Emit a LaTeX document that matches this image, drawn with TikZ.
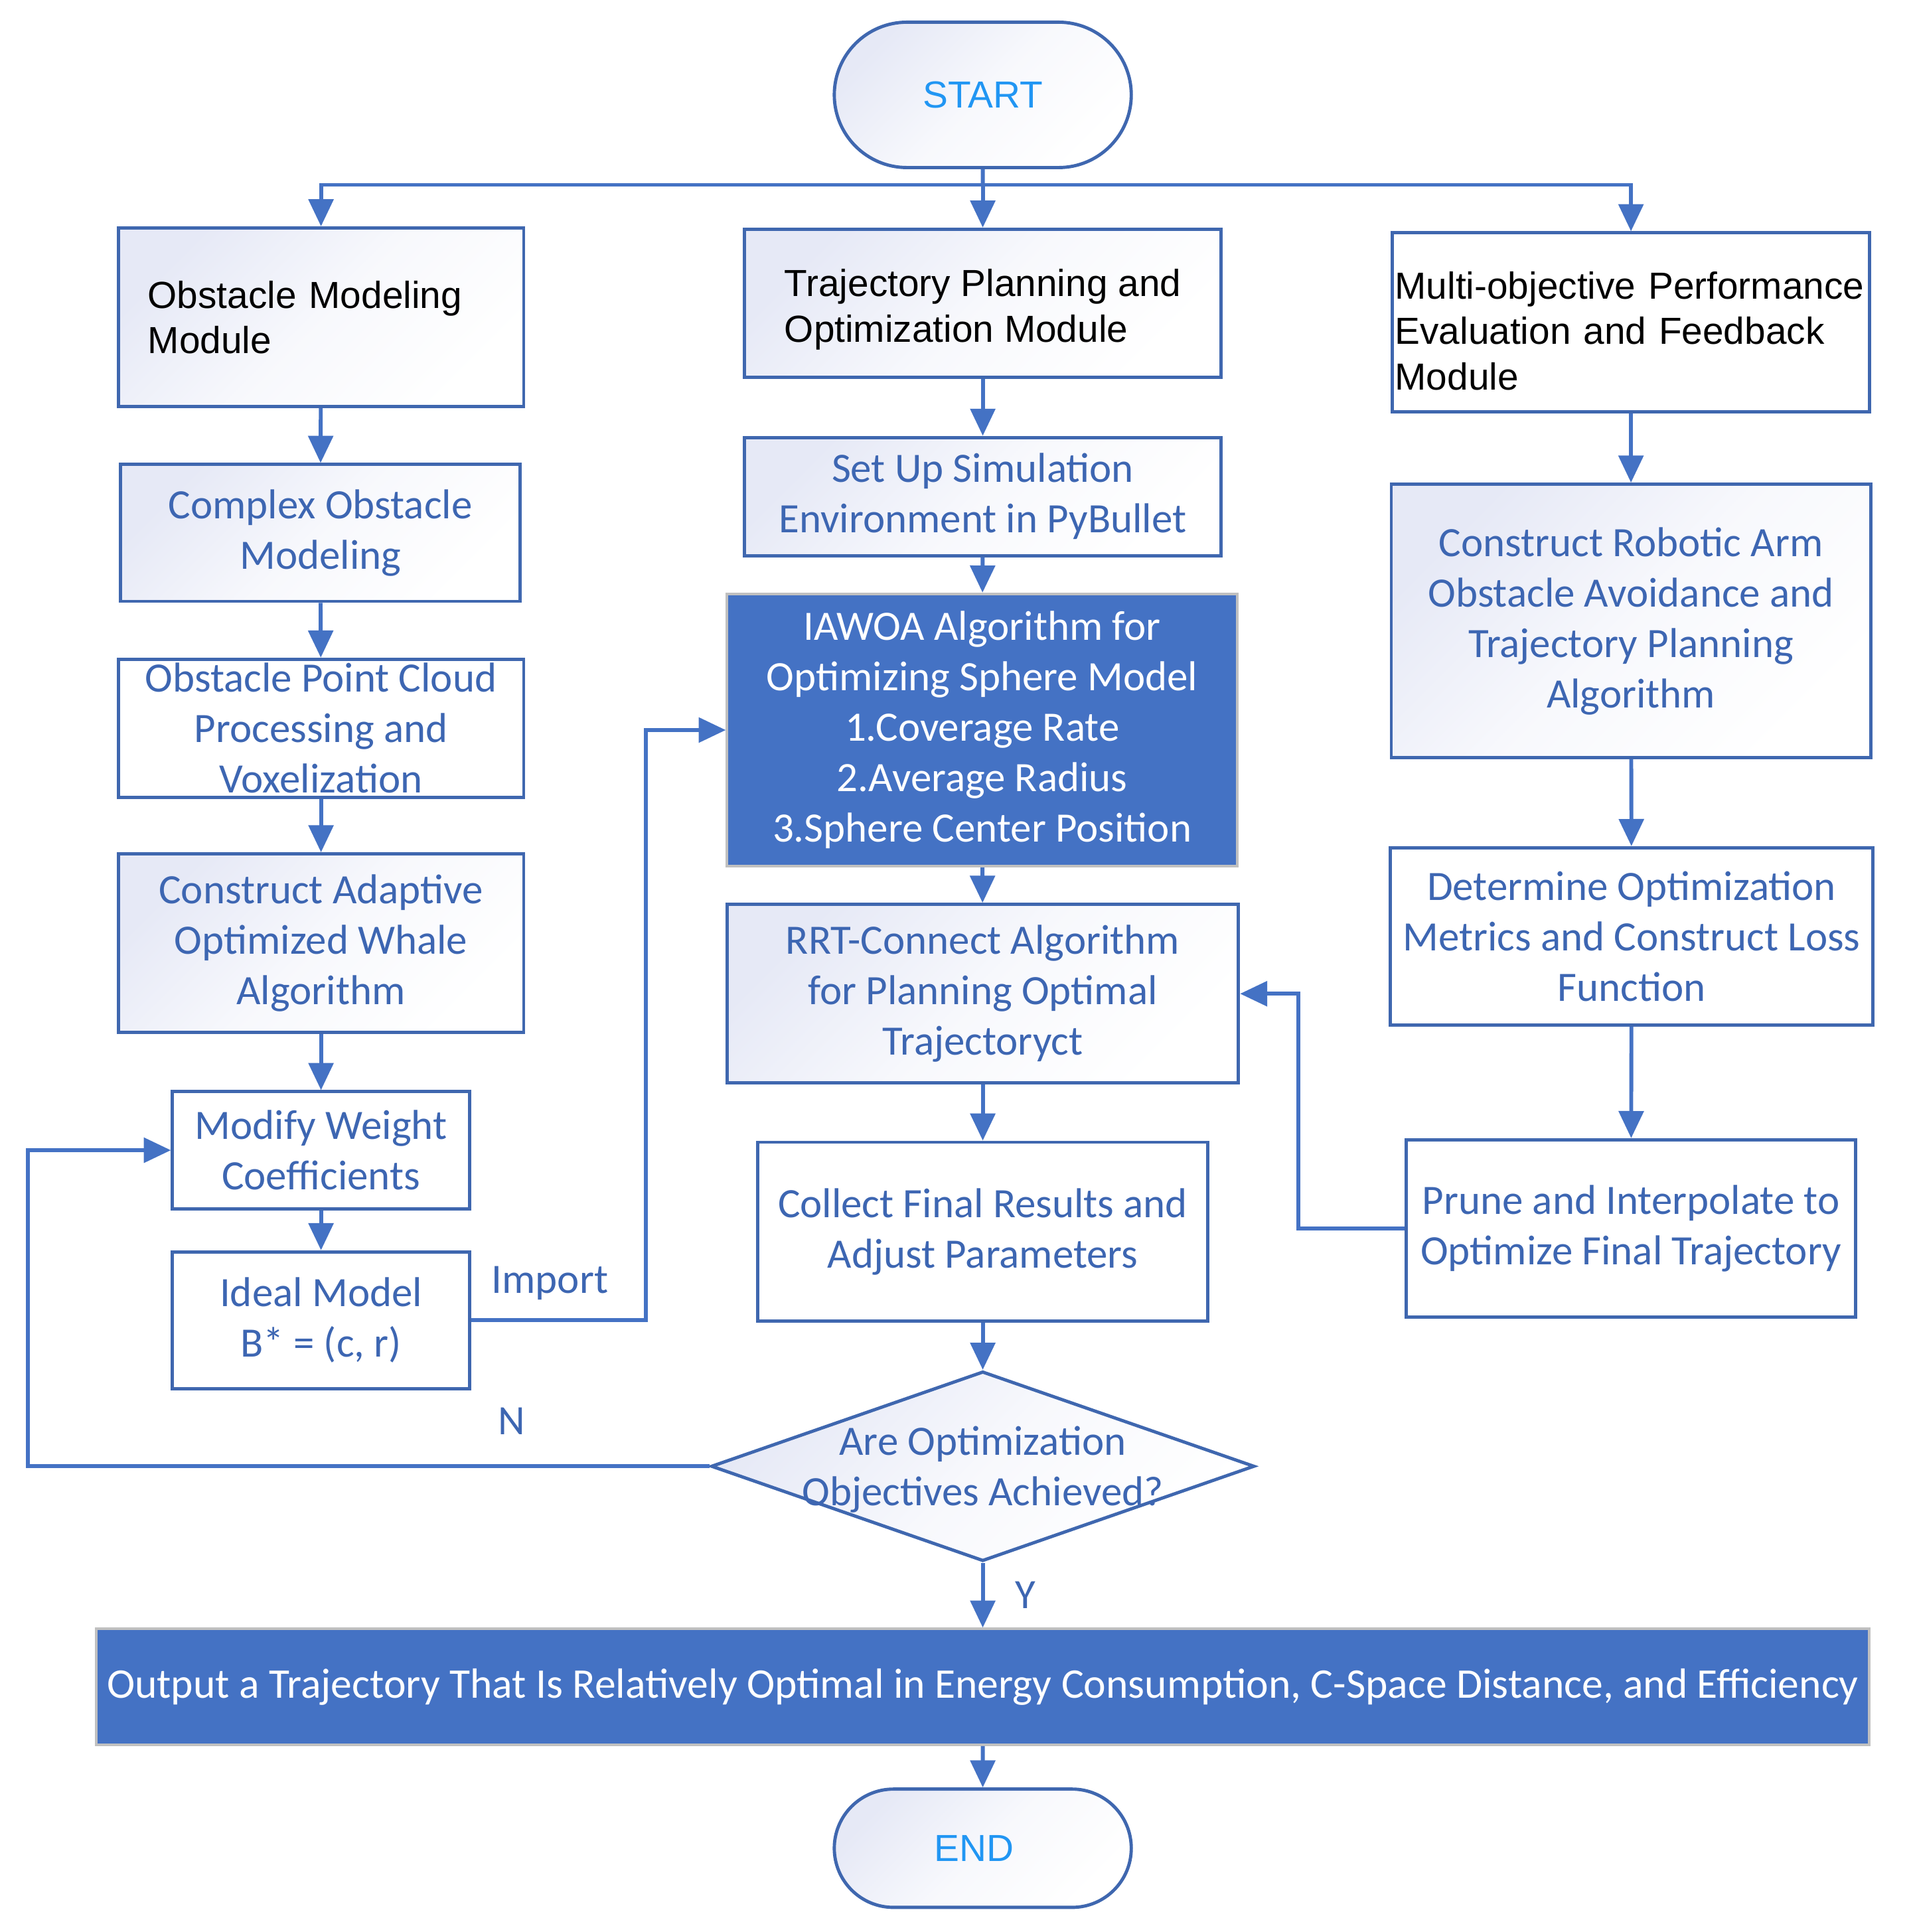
\documentclass[tikz,border=0pt]{standalone}
\usepackage{fontspec}
\setmainfont{Carlito}
\newfontfamily\arialfont{Liberation Sans}
\usetikzlibrary{arrows.meta,positioning,shapes.geometric,shapes.misc}
\definecolor{boxline}{RGB}{63,103,175}
\definecolor{flowcol}{RGB}{68,114,196}
\definecolor{labelcol}{RGB}{61,102,178}
\definecolor{startcol}{RGB}{33,150,243}
\definecolor{gradcol}{RGB}{230,233,246}
\definecolor{edgegray}{RGB}{192,192,192}
\newcommand{\boxfont}{\fontsize{9.65}{11.66}\selectfont}
\newcommand{\modfont}{\arialfont\fontsize{8.7}{10.5}\selectfont}

\begin{document}
\begin{tikzpicture}[
    box/.style={draw=boxline, line width=0.75pt, fill=white, font=\boxfont, text=labelcol, align=center, inner sep=0pt},
    grad/.style={box, top color=gradcol, bottom color=white, middle color=gradcol!30!white, shading angle=45},
    solidbox/.style={draw=edgegray, line width=0.6pt, fill=flowcol, font=\boxfont, text=white, align=center, inner sep=0pt},
    module/.style={font=\modfont, text=black, align=left},
    terminal/.style={grad, rounded rectangle, font=\modfont, text=startcol, minimum width=2.41cm},
    arr/.style={draw=flowcol, line width=0.9pt, -{Triangle[length=0.22cm,width=0.2cm]}},
    link/.style={draw=flowcol, line width=0.9pt},
    lbl/.style={font=\boxfont, text=labelcol, inner sep=0pt},
]
\useasboundingbox (0,0) rectangle (15.54,-15.68);

\node[terminal, minimum height=1.18cm] (start) at (7.975,-0.77) {START};
\coordinate (busM) at (7.975,-1.50);

% left column
\node[grad, module, minimum width=3.29cm, minimum height=1.45cm, text width=2.81cm, inner xsep=0.24cm] (obsmod) at (2.605,-2.575)
  {Obstacle Modeling\\Module};
\node[grad, minimum width=3.24cm, minimum height=1.11cm] (complex) at (2.60,-4.325)
  {Complex Obstacle\\Modeling};
\node[box, minimum width=3.29cm, minimum height=1.12cm] (cloud) at (2.605,-5.91)
  {Obstacle Point Cloud\\Processing and\\Voxelization};
\node[grad, minimum width=3.29cm, minimum height=1.45cm] (whale) at (2.605,-7.655)
  {Construct Adaptive\\Optimized Whale\\Algorithm};
\node[box, minimum width=2.41cm, minimum height=0.95cm] (modify) at (2.605,-9.335)
  {Modify Weight\\Coefficients};
\node[box, minimum width=2.41cm, minimum height=1.11cm] (ideal) at (2.605,-10.715)
  {Ideal Model\\B* = (c, r)};

% middle column
\node[grad, module, minimum width=3.87cm, minimum height=1.20cm] (trajmod) at (7.975,-2.46)
  {\rule{0pt}{9.2pt}Trajectory Planning and\\Optimization Module};
\node[grad, minimum width=3.87cm, minimum height=0.96cm] (simenv) at (7.975,-4.03)
  {Set Up Simulation\\Environment in PyBullet};
\node[solidbox, minimum width=4.14cm, minimum height=2.21cm] (iawoa) at (7.97,-5.925)
  {IAWOA Algorithm for\\Optimizing Sphere Model\\1.Coverage Rate\\2.Average Radius\\3.Sphere Center Position};
\node[grad, minimum width=4.15cm, minimum height=1.45cm] (rrt) at (7.975,-8.065)
  {RRT-Connect Algorithm\\for Planning Optimal\\Trajectoryct};
\node[box, minimum width=3.65cm, minimum height=1.45cm] (collect) at (7.975,-9.995)
  {Collect Final Results and\\Adjust Parameters};
\node[grad, diamond, minimum width=4.41cm, minimum height=1.54cm] (decide) at (7.975,-11.90)
  {\raisebox{-0.12cm}[0pt][0pt]{\makebox[0pt]{\begin{tabular}{@{}c@{}}Are Optimization\\Objectives Achieved?\end{tabular}}}};
\node[solidbox, font=\fontsize{9.75}{11.7}\selectfont, minimum width=14.39cm, minimum height=0.94cm] (output) at (7.975,-13.69)
  {Output a Trajectory That Is Relatively Optimal in Energy Consumption, C-Space Distance, and Efficiency};
\node[terminal, minimum height=0.96cm] (finish) at (7.975,-15.00) {END\hspace{0.14cm}};

% right column
\node[box, module, minimum width=3.87cm, minimum height=1.45cm, text width=3.83cm, inner xsep=0.02cm] (evalmod) at (13.235,-2.615)
  {\rule{0pt}{10.3pt}Multi-objective Performance\\Evaluation and Feedback\\Module};
\node[grad, minimum width=3.89cm, minimum height=2.22cm] (robot) at (13.235,-5.04)
  {Construct Robotic Arm\\Obstacle Avoidance and\\Trajectory Planning\\Algorithm};
\node[box, minimum width=3.92cm, minimum height=1.44cm] (metric) at (13.24,-7.60)
  {Determine Optimization\\Metrics and Construct Loss\\Function};
\node[box, minimum width=3.65cm, minimum height=1.44cm] (prune) at (13.235,-9.97)
  {Prune and Interpolate to\\Optimize Final Trajectory};

\draw[link] (start) -- (busM);
\draw[arr] (busM) -| (obsmod.north);
\draw[arr] (busM) -- (trajmod);
\draw[arr] (busM) -| (evalmod.north);

\draw[arr] (obsmod) -- (complex);
\draw[arr] (complex) -- (cloud);
\draw[arr] (cloud) -- (whale);
\draw[arr] (whale) -- (modify);
\draw[arr] (modify) -- (ideal);

\draw[arr] (trajmod) -- (simenv);
\draw[arr] (simenv) -- (iawoa);
\draw[arr] (iawoa) -- (rrt);
\draw[arr] (rrt) -- (collect);
\draw[arr] (collect) -- (decide);
\draw[arr] (decide) -- node[lbl, right=0.25cm] {Y} (output);
\draw[arr] (output) -- (finish);

\draw[arr] (evalmod) -- (robot);
\draw[arr] (robot) -- (metric);
\draw[arr] (metric) -- (prune);

\draw[arr] (ideal.east) -- node[lbl, above=0.15cm, pos=0.45] {Import} ++(1.42,0) |- (iawoa.west);
\draw[arr] (prune.west) -- ++(-0.86,0) |- (rrt.east);
\draw[arr] (decide.west) -- node[lbl, above=0.24cm, pos=0.29] {N} ++(-5.53,0) |- (modify.west);
\end{tikzpicture}
\end{document}
